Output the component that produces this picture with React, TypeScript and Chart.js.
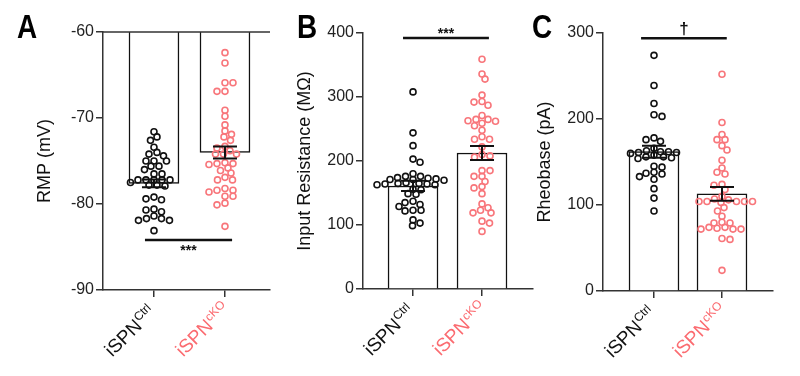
import React, { useEffect, useRef } from "react";
import { Chart, registerables } from "chart.js";

Chart.register(...registerables);

const FONT = "'Liberation Sans', Arial, Helvetica, sans-serif";
const LETTER_FONT = "bold 34px 'Liberation Sans', Arial, sans-serif";

const groups = ["Ctrl", "cKO"];
const groupColors = ["#111111", "#f8767b"];
const labelColors = ["#111111", "#fb6b70"];
const AXIS = "#333333";

// Panel A: resting membrane potential (mV)
const rmpCtrl = [-71.6, -72.2, -72.6, -73.4, -74.0, -74.2, -74.4, -75.0, -75.0, -75.0, -75.6, -75.6, -76.0, -76.5, -76.5, -77.2, -77.2, -77.2, -77.2, -77.2, -77.5, -77.8, -77.8, -77.9, -79.2, -79.4, -79.5, -80.6, -80.7, -80.9, -81.4, -81.7, -81.7, -81.9, -81.9, -83.1];
const rmpCKO = [-62.4, -63.6, -65.9, -65.9, -66.9, -66.9, -69.1, -69.8, -70.8, -71.5, -71.9, -72.2, -72.6, -73.3, -73.5, -73.8, -74.2, -74.2, -74.2, -75.2, -75.3, -75.3, -75.4, -75.8, -76.1, -76.4, -76.9, -77.2, -77.2, -78.2, -78.4, -78.4, -78.6, -79.1, -79.1, -79.9, -80.1, -82.6];
const rmpMean = [-77.6, -74.0];
const rmpSem = [0.45, 0.7];

// Panel B: input resistance (MΩ)
const rinCtrl = [308, 244, 224, 203, 198, 180, 176, 174, 176, 173, 171, 171, 170, 172, 166, 164, 163, 165, 164, 163, 165, 156, 155, 149, 148, 137, 135, 132, 129, 123, 122, 123, 108, 103, 99];
const rinCKO = [359, 336, 328, 303, 293, 292, 287, 271, 265, 265, 263, 262, 259, 255, 248, 238, 234, 234, 222, 210, 208, 206, 185, 185, 176, 176, 168, 160, 158, 149, 133, 127, 123, 119, 119, 106, 103, 90];
const rinMean = [161, 212.5];
const rinSem = [8, 11];

// Panel C: rheobase (pA)
const rheoCtrl = [274, 239, 218, 205, 203, 178, 176, 174, 166, 163, 162, 162, 161, 161, 160, 158, 156, 156, 155, 154, 145, 144, 138, 137, 136, 133, 130, 119, 108, 93];
const rheoCKO = [252, 196, 182, 176, 176, 169, 164, 152, 143, 138, 136, 124, 123, 118, 110, 107, 106, 104, 104, 104, 104, 104, 103, 97, 93, 87, 80, 79, 79, 74, 74, 73, 72, 72, 72, 61, 60, 24];
const rheoMean = [162, 113];
const rheoSem = [7, 8];

type Sig = { text: string; from: number; to: number; y: number; font: string; dy: number };
type Panel = {
  letter: string;
  letterX: number;
  title: string;
  values: number[][];
  means: number[];
  sems: number[];
  yMin: number;
  yMax: number;
  yStep: number;
  barBase: number;
  floating: boolean;
  L: number;
  axisW: number;
  R: number;
  T: number;
  xH: number;
  xMin: number;
  xMax: number;
  titlePad: number;
  topLine: boolean;
  sig: Sig;
};

const panels: Panel[] = [
  {
    letter: "A", letterX: 17, title: "RMP (mV)",
    values: [rmpCtrl, rmpCKO], means: rmpMean, sems: rmpSem,
    yMin: -90, yMax: -60, yStep: 10, barBase: -60, floating: true,
    L: 0, axisW: 103, R: 530, T: 32, xH: 86, xMin: -0.718, xMax: 1.634, titlePad: 34, topLine: true,
    sig: { text: "***", from: -0.127, to: 1.1, y: -84.2, font: `bold 14px ${FONT}`, dy: 15 },
  },
  {
    letter: "B", letterX: 297, title: "Input Resistance (MΩ)",
    values: [rinCtrl, rinCKO], means: rinMean, sems: rinSem,
    yMin: 0, yMax: 400, yStep: 100, barBase: 0, floating: false,
    L: 280, axisW: 83, R: 267, T: 33, xH: 87, xMin: -0.725, xMax: 1.739, titlePad: 14, topLine: false,
    sig: { text: "***", from: -0.145, to: 1.1, y: 392, font: `bold 14px ${FONT}`, dy: 0 },
  },
  {
    letter: "C", letterX: 532, title: "Rheobase (pA)",
    values: [rheoCtrl, rheoCKO], means: rheoMean, sems: rheoSem,
    yMin: 0, yMax: 300, yStep: 100, barBase: 0, floating: false,
    L: 520, axisW: 83, R: 27, T: 33, xH: 85, xMin: -0.75, xMax: 1.75, titlePad: 14, topLine: false,
    sig: { text: "†", from: -0.19, to: 1.07, y: 294, font: `bold 17px ${FONT}`, dy: -4 },
  },
];

// GraphPad-like scatter: points in the same row spread sideways, rows may overlap
function swarmOffsets(vals: number[], toPx: (v: number) => number, dx: number, dy: number): number[] {
  const order = vals.map((_, i) => i).sort((a, b) => vals[b] - vals[a]);
  const placed: [number, number][] = [];
  const res = new Array(vals.length).fill(0);
  let flip = 1;
  for (const i of order) {
    const y = toPx(vals[i]);
    let chosen = 0;
    outer: for (let m = 0; m < 100; m += 0.5) {
      const cands = m === 0 ? [0] : [m * flip, -m * flip];
      for (const x of cands) {
        const ok = placed.every(([px, py]) => {
          const a = (px - x) / dx;
          const b = (py - y) / dy;
          return a * a + b * b >= 1;
        });
        if (ok) {
          chosen = x;
          break outer;
        }
      }
    }
    if (chosen !== 0) flip = chosen > 0 ? -1 : 1;
    placed.push([chosen, y]);
    res[i] = chosen;
  }
  return res;
}

function PanelChart({ p }: { p: Panel }) {
  const ref = useRef<HTMLCanvasElement | null>(null);
  useEffect(() => {
    if (!ref.current) return;
    const overlay = {
      id: "overlay" + p.letter,
      afterDatasetsDraw(chart: any) {
        const ctx = chart.ctx;
        const xs = chart.scales.x;
        const ys = chart.scales.y;
        const area = chart.chartArea;
        ctx.save();
        if (p.topLine) {
          ctx.strokeStyle = AXIS;
          ctx.lineWidth = 1.5;
          ctx.beginPath();
          ctx.moveTo(area.left, area.top);
          ctx.lineTo(area.right, area.top);
          ctx.stroke();
        }
        // error bars (mean ± SEM)
        ctx.strokeStyle = "#111";
        ctx.lineWidth = 2;
        p.means.forEach((m, i) => {
          const x = xs.getPixelForValue(i);
          const y1 = ys.getPixelForValue(m + p.sems[i]);
          const y2 = ys.getPixelForValue(m - p.sems[i]);
          ctx.beginPath();
          ctx.moveTo(x, y1);
          ctx.lineTo(x, y2);
          ctx.moveTo(x - 12, y1);
          ctx.lineTo(x + 12, y1);
          ctx.moveTo(x - 12, y2);
          ctx.lineTo(x + 12, y2);
          ctx.stroke();
        });
        // significance bracket
        const sy = ys.getPixelForValue(p.sig.y);
        const sx1 = xs.getPixelForValue(p.sig.from);
        const sx2 = xs.getPixelForValue(p.sig.to);
        ctx.lineWidth = 2.5;
        ctx.beginPath();
        ctx.moveTo(sx1, sy);
        ctx.lineTo(sx2, sy);
        ctx.stroke();
        ctx.fillStyle = "#111";
        ctx.font = p.sig.font;
        ctx.textAlign = "center";
        ctx.textBaseline = "alphabetic";
        ctx.fillText(p.sig.text, (sx1 + sx2) / 2, sy + p.sig.dy);
        // rotated category labels with superscripts
        groups.forEach((g, i) => {
          const px = xs.getPixelForValue(i);
          const py = area.bottom;
          ctx.save();
          ctx.translate(px - 11, py + 37);
          ctx.rotate(-Math.PI / 4);
          ctx.fillStyle = labelColors[i];
          ctx.textAlign = "left";
          ctx.textBaseline = "alphabetic";
          ctx.font = `19px ${FONT}`;
          const w1 = ctx.measureText("iSPN").width;
          ctx.fillText("iSPN", -w1, 0);
          ctx.font = `12px ${FONT}`;
          ctx.fillText(g, 0.5, -7);
          ctx.restore();
        });
        // panel letter (condensed bold)
        ctx.save();
        ctx.translate(p.letterX, 38);
        ctx.scale(0.82, 1);
        ctx.fillStyle = "#000";
        ctx.font = LETTER_FONT;
        ctx.textAlign = "left";
        ctx.textBaseline = "alphabetic";
        ctx.fillText(p.letter, 0, 0);
        ctx.restore();
        ctx.restore();
      },
    };

    const chart = new Chart(ref.current, {
      type: "bar",
      data: {
        datasets: [
          ...p.values.map((vals, gi) => ({
            type: "scatter" as const,
            order: 0,
            data: vals.map((v) => ({ x: gi, y: v })),
            pointRadius: 3,
            pointHoverRadius: 3,
            pointBorderWidth: 1.6,
            pointBackgroundColor: "rgba(255,255,255,0)",
            pointBorderColor: groupColors[gi],
          })),
          {
            type: "bar" as const,
            order: 1,
            data: p.means.map((m, i) => ({ x: i, y: p.floating ? [p.barBase, m] : m })) as any,
            backgroundColor: "#ffffff",
            borderColor: "#111",
            borderWidth: 1.5,
            barThickness: 50,
            borderSkipped: "start",
          },
        ],
      },
      options: {
        responsive: false,
        maintainAspectRatio: false,
        animation: false,
        events: [],
        layout: { padding: { left: p.L, right: p.R, top: p.T, bottom: 0 } },
        plugins: { legend: { display: false }, tooltip: { enabled: false } },
        scales: {
          x: {
            type: "linear",
            position: "bottom",
            offset: false,
            min: p.xMin,
            max: p.xMax,
            afterBuildTicks: (s: any) => {
              s.ticks = [{ value: 0 }, { value: 1 }];
            },
            afterFit: (s: any) => {
              s.height = p.xH;
            },
            ticks: { display: false },
            grid: { display: true, offset: false, drawOnChartArea: false, drawTicks: true, tickLength: 7, color: AXIS, lineWidth: 1.5 },
            border: { display: true, color: AXIS, width: 1.5 },
          },
          y: {
            type: "linear",
            position: "left",
            min: p.yMin,
            max: p.yMax,
            ticks: { stepSize: p.yStep, color: "#222", font: { family: FONT, size: 16 }, padding: 2 },
            afterFit: (s: any) => {
              s.width = p.axisW;
            },
            grid: { display: true, drawOnChartArea: false, drawTicks: true, tickLength: 7, color: AXIS, lineWidth: 1.5 },
            border: { display: true, color: AXIS, width: 1.5 },
            title: {
              display: true,
              text: p.title,
              color: "#111",
              font: { family: FONT, size: 18 },
              padding: { top: p.titlePad, bottom: 0 },
            },
          },
        },
      },
      plugins: [overlay],
    } as any);

    // scatter jitter computed from the library's own scales
    const xs = chart.scales.x;
    const ys = chart.scales.y;
    const pxPerUnit = xs.getPixelForValue(1) - xs.getPixelForValue(0);
    p.values.forEach((vals, gi) => {
      const offs = swarmOffsets(vals, (v) => ys.getPixelForValue(v), 8, 5.5);
      (chart.data.datasets[gi] as any).data = vals.map((v, i) => ({ x: gi + offs[i] / pxPerUnit, y: v }));
    });
    chart.update("none");

    return () => chart.destroy();
  }, []);
  return <canvas ref={ref} width={800} height={376} style={{ position: "absolute", left: 0, top: 0 }} />;
}

export default function App() {
  return (
    <div style={{ position: "fixed", left: 0, top: 0, width: 800, height: 376, background: "#fff", overflow: "hidden" }}>
      {panels.map((p) => (
        <PanelChart key={p.letter} p={p} />
      ))}
    </div>
  );
}
